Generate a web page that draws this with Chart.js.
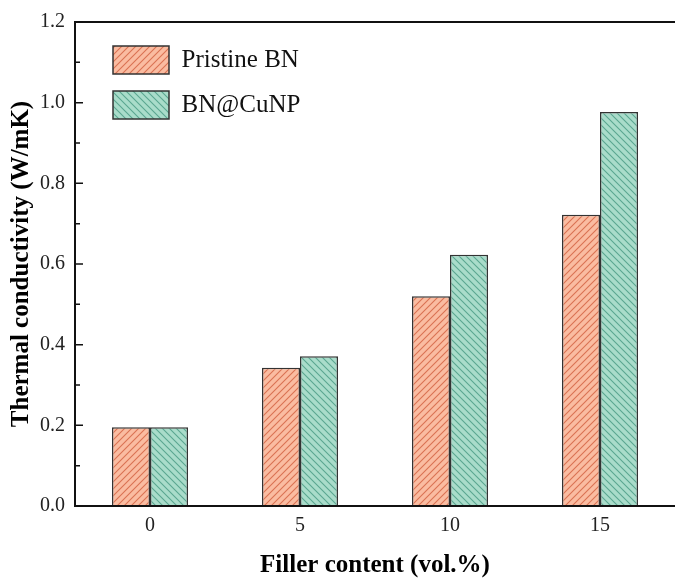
<!DOCTYPE html>
<html><head><meta charset="utf-8">
<script src="https://cdn.jsdelivr.net/npm/chart.js@4.4.1/dist/chart.umd.min.js"></script>
<style>html,body{margin:0;padding:0;background:#fff;overflow:hidden}</style>
</head><body>
<canvas id="c" width="675" height="581"></canvas>
<script>
const categories = ['0', '5', '10', '15'];
const seriesNames = ['Pristine BN', 'BN@CuNP'];
const pristineBN = [0.195, 0.343, 0.520, 0.722];
const bnCuNP = [0.195, 0.371, 0.623, 0.977];
const yMajorTicks = [0.0, 0.2, 0.4, 0.6, 0.8, 1.0, 1.2];
const yMinorTicks = [0.1, 0.3, 0.5, 0.7, 0.9, 1.1];

function hatch(bg, line, dir) {
  const s = 7;
  const c = document.createElement('canvas');
  c.width = s; c.height = s;
  const g = c.getContext('2d');
  g.fillStyle = bg; g.fillRect(0, 0, s, s);
  g.strokeStyle = line; g.lineWidth = 1.1;
  g.beginPath();
  if (dir === '/') {
    g.moveTo(-1, s + 1); g.lineTo(s + 1, -1);
    g.moveTo(-1, 1); g.lineTo(1, -1);
    g.moveTo(s - 1, s + 1); g.lineTo(s + 1, s - 1);
  } else {
    g.moveTo(-1, -1); g.lineTo(s + 1, s + 1);
    g.moveTo(s - 1, -1); g.lineTo(s + 1, 1);
    g.moveTo(-1, s - 1); g.lineTo(1, s + 1);
  }
  g.stroke();
  return g.createPattern(c, 'repeat');
}

const pinkFill = hatch('#FABCA1', '#DA7253', '/');
const greenFill = hatch('#A9DCCA', '#5BA690', '\\');

const serif = 'Liberation Serif, Times New Roman, serif';

const frame = {
  id: 'frame',
  afterDatasetsDraw(chart) {
    const { ctx, chartArea: a, scales: { y } } = chart;
    ctx.save();
    ctx.strokeStyle = '#111';
    ctx.lineWidth = 2;
    ctx.beginPath();
    ctx.moveTo(a.right + 2, a.top);
    ctx.lineTo(a.left, a.top);
    ctx.lineTo(a.left, a.bottom);
    ctx.lineTo(a.right + 2, a.bottom);
    ctx.stroke();
    ctx.lineWidth = 1.5;
    ctx.beginPath();
    yMajorTicks.forEach(v => { const p = y.getPixelForValue(v); ctx.moveTo(a.left, p); ctx.lineTo(a.left + 8, p); });
    yMinorTicks.forEach(v => { const p = y.getPixelForValue(v); ctx.moveTo(a.left, p); ctx.lineTo(a.left + 5, p); });
    ctx.stroke();
    ctx.restore();
  }
};

const legendShift = {
  id: 'legendShift',
  afterLayout(chart) {
    const L = chart.legend;
    if (!L) return;
    L.left += 21; L.right += 21;
    L.top += 29; L.bottom += 29;
  }
};

new Chart(document.getElementById('c'), {
  type: 'bar',
  data: {
    labels: categories,
    datasets: [
      { label: seriesNames[0], data: pristineBN, backgroundColor: pinkFill, borderColor: '#333', borderWidth: 1.5 },
      { label: seriesNames[1], data: bnCuNP, backgroundColor: greenFill, borderColor: '#333', borderWidth: 1.5 }
    ]
  },
  options: {
    responsive: false,
    animation: false,
    datasets: { bar: { categoryPercentage: 0.507, barPercentage: 1.0 } },
    layout: { padding: { left: 0, right: 0, top: 22, bottom: 0 } },
    plugins: {
      tooltip: { enabled: false },
      legend: {
        position: 'chartArea',
        align: 'start',
        labels: {
          boxWidth: 56, boxHeight: 28, padding: 17,
          font: { family: serif, size: 25 }, color: '#111'
        }
      }
    },
    scales: {
      x: {
        grid: { display: false, drawTicks: false },
        border: { display: false },
        ticks: { font: { family: serif, size: 20 }, color: '#222', padding: 8 },
        title: { display: true, text: 'Filler content (vol.%)', font: { family: serif, size: 25, weight: 'bold' }, color: '#000', padding: { top: 0, bottom: 0 } },
        afterFit(s) { s.height = 75; }
      },
      y: {
        min: 0, max: 1.2,
        afterBuildTicks(s) { s.ticks = yMajorTicks.map(v => ({ value: v })); },
        grid: { display: false, drawTicks: false },
        border: { display: false },
        ticks: { font: { family: serif, size: 20 }, color: '#222', padding: 10, callback: v => Number(v).toFixed(1) },
        title: { display: true, text: 'Thermal conductivity (W/mK)', font: { family: serif, size: 25, weight: 'bold' }, color: '#000', padding: { top: 7, bottom: 0 } },
        afterFit(s) { s.width = 75; }
      }
    }
  },
  plugins: [frame, legendShift]
});
</script>
</body></html>
